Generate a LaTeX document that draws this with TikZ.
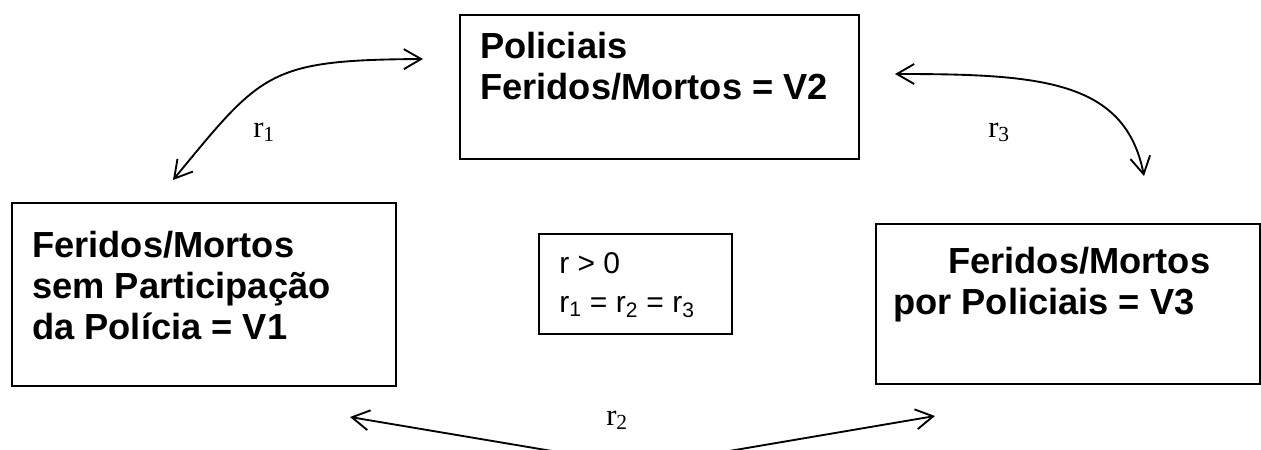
\documentclass[tikz,border=0pt]{standalone}
\usepackage{fontspec}
\setmainfont{Liberation Serif}
\setsansfont{Liberation Sans}
\usetikzlibrary{arrows.meta,positioning}

\tikzset{
	boxv/.style={draw,line width=1.4pt,inner sep=0pt,anchor=north west},
	bigtxt/.style={font=\sffamily\bfseries\fontsize{27.2}{31.1}\selectfont,inner sep=0pt,anchor=base west},
	smalltxt/.style={font=\sffamily\fontsize{22.5}{29.3}\selectfont,inner sep=0pt,anchor=base west},
	rlab/.style={font=\fontsize{23}{26}\selectfont,inner sep=0pt,anchor=base west},
	rel/.style={{Straight Barb[length=13pt,width=15pt]}-{Straight Barb[length=13pt,width=15pt]},line width=1.4pt}
}

\begin{document}
\begin{tikzpicture}[x=0.75pt,y=-0.75pt]
	\useasboundingbox (0,0) rectangle (1261,450);
	\clip (0,0) rectangle (1261,450);

	% boxes
	\node[boxv,minimum width=299.25pt,minimum height=108pt] (v2) at (459,14) {};
	\node[boxv,minimum width=288pt,minimum height=137.25pt] (v1) at (11,202) {};
	\node[boxv,minimum width=144.75pt,minimum height=75pt] (cond) at (538,233) {};
	\node[boxv,minimum width=288pt,minimum height=120pt] (v3) at (875,223) {};

	% texts
	\node[bigtxt] (v2txt) at ([xshift=15.75pt,yshift=-33pt]v2.north west)
		{\begin{tabular}[t]{@{}l@{}}Policiais\\Feridos/Mortos = V2\end{tabular}};
	\node[bigtxt] (v1txt) at ([xshift=15.75pt,yshift=-41.25pt]v1.north west)
		{\begin{tabular}[t]{@{}l@{}}Feridos/Mortos\\sem Participação\\da Polícia = V1\end{tabular}};
	\node[bigtxt] (v3txt) at ([xshift=13.5pt,yshift=-37.5pt]v3.north west)
		{\begin{tabular}[t]{@{}l@{}}\hspace*{41.25pt}Feridos/Mortos\\por Policiais = V3\end{tabular}};
	\node[smalltxt] (condtxt) at ([xshift=15.75pt,yshift=-30pt]cond.north west)
		{\begin{tabular}[t]{@{}l@{}}r > 0\\r\textsubscript{1} = r\textsubscript{2} = r\textsubscript{3}\end{tabular}};

	% arrow ends
	\path
	(173,180) coordinate (r1a)
	(423,59)  coordinate (r1b)
	(895,74)  coordinate (r3a)
	(1144,176) coordinate (r3b)
	(350,417) coordinate (r2a)
	(641,466) coordinate (r2m)
	(935,416) coordinate (r2b);

	\draw[rel] (r1a) .. controls (262,72) and (268,60) .. (r1b);
	\draw[rel] (r3a) .. controls (1040,74) and (1125,80) .. (r3b);
	\draw[rel] (r2a) -- (r2m) -- (r2b);

	\node[rlab] (lab1) at (253,137) {r\textsubscript{1}};
	\node[rlab] (lab3) at (988,137) {r\textsubscript{3}};
	\node[rlab] (lab2) at (606,425) {r\textsubscript{2}};
\end{tikzpicture}
\end{document}
